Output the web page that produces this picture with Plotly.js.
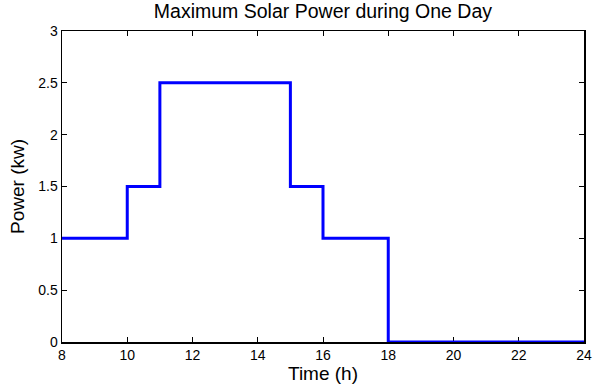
<!DOCTYPE html>
<html>
<head>
<meta charset="utf-8">
<script src="https://cdn.plot.ly/plotly-3.0.1.min.js"></script>
<style>html,body{margin:0;padding:0;background:#fff;}#chart{width:598px;height:391px;}</style>
</head>
<body>
<div id="chart"></div>
<script>
const hours = [8, 10, 11, 15, 16, 18, 24];
const power = [1, 1.5, 2.5, 1.5, 1, 0, 0];
const xTicks = [8, 10, 12, 14, 16, 18, 20, 22, 24];
const yTicks = [0, 0.5, 1, 1.5, 2, 2.5, 3];

const font = 'Liberation Sans, Arial, Helvetica, sans-serif';
const trace = {
  x: hours, y: power, type: 'scatter', mode: 'lines',
  line: {shape: 'hv', color: '#0000ff', width: 3},
  hoverinfo: 'none'
};
const axisCommon = {
  showgrid: false, zeroline: false, showline: true, linecolor: '#000', linewidth: 1.5,
  mirror: 'ticks', ticks: 'inside', ticklen: 5, tickwidth: 1, tickcolor: '#000',
  tickfont: {family: font, size: 14, color: '#000'}, layer: 'below traces'
};
const layout = {
  width: 598, height: 391,
  margin: {l: 62, r: 14, t: 31, b: 49},
  paper_bgcolor: '#fff', plot_bgcolor: '#fff',
  showlegend: false,
  title: {text: 'Maximum Solar Power during One Day', font: {family: font, size: 19.5, color: '#000'}, x: 0.54, xanchor: 'center', y: 0.99, yanchor: 'top'},
  xaxis: Object.assign({}, axisCommon, {range: [8, 24], tickvals: xTicks, ticktext: xTicks.map(String),
    title: {text: 'Time (h)', font: {family: font, size: 19, color: '#000'}, standoff: 2}}),
  yaxis: Object.assign({}, axisCommon, {range: [0, 3], tickvals: yTicks, ticktext: yTicks.map(String),
    title: {text: 'Power (kw)', font: {family: font, size: 19, color: '#000'}, standoff: 8}})
};
Plotly.newPlot('chart', [trace], layout, {staticPlot: true, displayModeBar: false});
</script>
</body>
</html>
